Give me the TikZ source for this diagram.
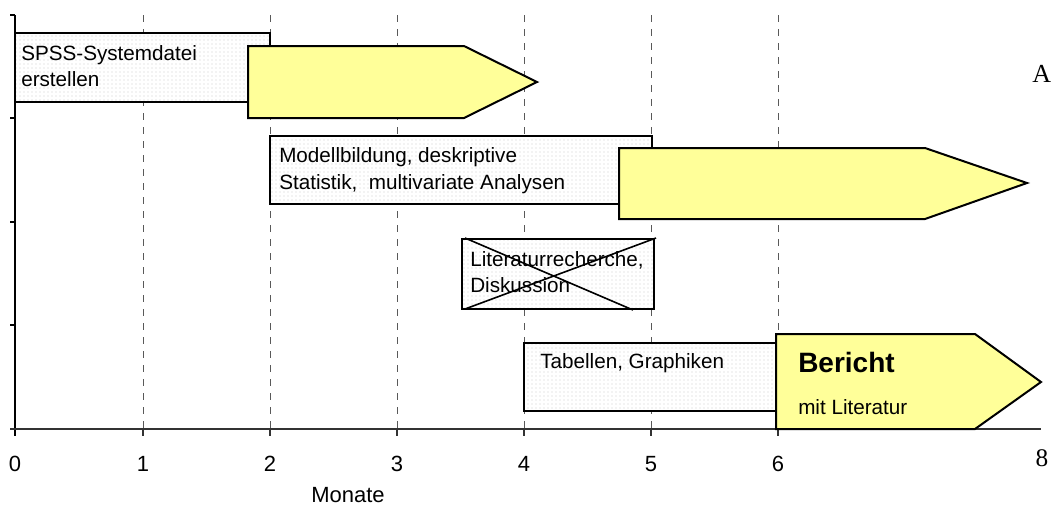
\documentclass[tikz,border=0pt]{standalone}
\usepackage{fontspec}
\setmainfont{Liberation Sans}
\newfontfamily\serifnum{Liberation Serif}
\usetikzlibrary{patterns}
\begin{document}
\begin{tikzpicture}[x=0.75pt,y=-0.75pt,
  gridline/.style={black!65, line width=0.75pt, dash pattern=on 5.5pt off 5pt},
  axisline/.style={black!80, line width=0.8pt},
  taskbox/.style={preaction={fill=white}, pattern=dots, pattern color=black!20,
                  draw=black, line width=1.5pt},
  phasearrow/.style={draw=black, line width=1.5pt, line join=miter,
                     fill={rgb,255:red,255;green,255;blue,153}},
  txt/.style={inner sep=0pt, anchor=base west, font=\fontsize{15.5}{18}\selectfont},
  ticklabel/.style={inner sep=0pt, anchor=center, font=\fontsize{16.5}{19}\selectfont}]

\clip (0,0) rectangle (1051,508);

% vertical month grid
\foreach \x in {143,270,397,524,651,778}
  \draw[gridline] (\x,15) -- (\x,429);

% axes and ticks
\draw[black, line width=0.8pt] (15,15) -- (15,436);
\foreach \y in {15,118,222,325}
  \draw[black, line width=0.8pt] (10,\y) -- (15,\y);
\draw[axisline] (10,429) -- (1041,429);
\foreach \x in {143,270,397,524,651,778}
  \draw[axisline] (\x,429) -- (\x,436);

% tick labels
\foreach \x/\m in {15/0,143/1,270/2,397/3,524/4,651/5,778/6}
  \node[ticklabel] (m\m) at (\x,464) {\m};
\node[inner sep=0pt, font=\serifnum\fontsize{19}{22}\selectfont] (m8) at (1042,458) {8};
\node[ticklabel] (monate) at (348,495) {Monate};
\node[inner sep=0pt, anchor=base west, font=\serifnum\fontsize{19.5}{22}\selectfont] (sideA) at (1032,82) {A};

% task boxes
\draw[taskbox] (15,33) rectangle (270,102);
\draw[taskbox] (270,136) rectangle (652,204);
\draw[taskbox] (462,239) rectangle (654,309);
\draw[taskbox] (524,343) rectangle (777,411);

% phase arrows
\draw[phasearrow] (248,46) -- (464,46) -- (537,82) -- (464,118) -- (248,118) -- cycle;
\draw[phasearrow] (619,148) -- (925,148) -- (1027,183) -- (925,219) -- (619,219) -- cycle;
\draw[phasearrow] (776,334) -- (975,334) -- (1041,382) -- (975,429) -- (776,429) -- cycle;

% texts
\node[txt] (spss1) at (21,60) {SPSS-Systemdatei};
\node[txt] (spss2) at (21,86) {erstellen};
\node[txt] (mod1) at (279,162) {Modellbildung, deskriptive};
\node[txt] (mod2) at (279,189) {Statistik,\ \ multivariate Analysen};
\node[txt] (lit1) at (470,266) {Literaturrecherche,};
\node[txt] (lit2) at (470,292) {Diskussion};
\node[txt] (tab) at (540,368) {Tabellen, Graphiken};
\node[txt, font=\bfseries\fontsize{21}{24}\selectfont] (ber) at (798,372) {Bericht};
\node[txt] (mitlit) at (798,414) {mit Literatur};

% crossed-out literature box
\draw[black, line width=1.2pt] (465,238) -- (633,310);
\draw[black, line width=1.2pt] (465,309) -- (656,238);
\end{tikzpicture}
\end{document}
